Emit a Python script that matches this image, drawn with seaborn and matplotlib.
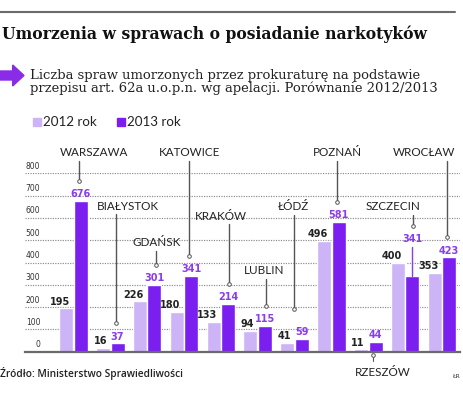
import matplotlib
matplotlib.use("Agg")
import matplotlib.pyplot as plt
import matplotlib.transforms as mtrans
from matplotlib.patches import Rectangle, Polygon
import seaborn as sns
import pandas as pd

# ---------------- data ----------------
cities = ["WARSZAWA", "BIAŁYSTOK", "GDAŃSK", "KATOWICE", "KRAKÓW", "LUBLIN",
          "ŁÓDŹ", "POZNAŃ", "RZESZÓW", "SZCZECIN", "WROCŁAW"]
values_2012 = [195, 16, 226, 180, 133, 94, 41, 496, 11, 400, 353]
values_2013 = [676, 37, 301, 341, 214, 115, 59, 581, 44, 341, 423]
years = ["2012 rok", "2013 rok"]
yticks = [0, 100, 200, 300, 400, 500, 600, 700, 800]

title = "Umorzenia w sprawach o posiadanie narkotyków"
subtitle1 = "Liczba spraw umorzonych przez prokuraturę na podstawie"
subtitle2 = "przepisu art. 62a u.o.p.n. wg apelacji. Porównanie 2012/2013"
source = "Źródło: Ministerstwo Sprawiedliwości"

# ---------------- style ----------------
C12 = "#cdb4f6"
C13 = "#7a1ff0"
CLBL = "#8a3cf0"
CTXT = "#222222"
CLINE = "#555555"

sns.set_theme(style="white")
plt.rcParams["font.family"] = ["DejaVu Sans"]

W, H = 464, 398
fig = plt.figure(figsize=(W / 100, H / 100), dpi=100)

def fy(py):  # top-based pixel -> figure fraction
    return 1 - py / H

def fx(px):
    return px / W

base_px, top_px = 351.7, 173.3
ax = fig.add_axes([fx(25), fy(base_px), fx(460) - fx(25), (base_px - top_px) / H])

df = pd.DataFrame({
    "city": cities * 2,
    "value": values_2012 + values_2013,
    "year": [years[0]] * len(cities) + [years[1]] * len(cities),
})
sns.barplot(data=df, x="city", y="value", hue="year", order=cities,
            hue_order=years, palette=[C12, C13], saturation=1,
            width=0.79, gap=0.04, legend=False, ax=ax, zorder=2)

ax.set_ylim(0, 800)
ax.set_xlim(-1.316, 10.49)
ax.set_xlabel("")
ax.set_ylabel("")
ax.set_xticks([])
ax.set_yticks(yticks)
ax.set_axisbelow(True)
ax.grid(axis="y", color="#8a8a8a", linestyle=(0, (1, 1.1)), linewidth=0.85, zorder=0)
ax.grid(axis="x", visible=False)
for s in ["left", "right", "top"]:
    ax.spines[s].set_visible(False)
ax.spines["bottom"].set_color("#6a6a6a")
ax.spines["bottom"].set_linewidth(1.6)
ax.spines["bottom"].set_zorder(3)
ax.tick_params(axis="y", length=0, pad=-11, labelsize=5.5, labelcolor="#333333")
off = mtrans.ScaledTranslation(0, 8 / 100, fig.dpi_scale_trans)
for lab in ax.get_yticklabels():
    lab.set_transform(lab.get_transform() + off)
    lab.set_horizontalalignment("right")
    lab.set_fontweight("medium")

# bar positions from the drawn containers
bars12 = ax.containers[0]
bars13 = ax.containers[1]
px_per_unit = (base_px - top_px) / 800.0

def units(px):
    return px / px_per_unit

# value labels
for b in bars12:
    xr = b.get_x() + b.get_width()
    ax.annotate(f"{int(b.get_height())}", (xr, b.get_height()),
                xytext=(-2.2, 1.2), textcoords="offset points",
                ha="right", va="bottom", fontsize=7, fontweight="bold",
                color=CTXT, clip_on=False, zorder=5)

# city label layout: (text x in category units, text y in pixels from top,
#                    leader x offset from category)
lab_x = [0.556, 1.479, 2.266, 3.161, 4.003, 5.169, 5.957, 7.151, 8.40, 8.67, 9.511]
lab_ypx = [153, 206, 243, 153, 216, 271, 207, 153, 373, 207, 153]
line_dx = [0.15, 0.15, 0.24, 0.13, 0.22, 0.22, -0.02, 0.15, 0.13, 0.22, 0.135]

for i, b in enumerate(bars13):
    xc = b.get_x() + b.get_width() / 2
    v = b.get_height()
    is_sz = cities[i] == "SZCZECIN"
    label_y = v + (units(30) if is_sz else 0)
    ax.annotate(f"{int(v)}", (xc, label_y), xytext=(0, 1.2),
                textcoords="offset points", ha="center", va="bottom",
                fontsize=7, fontweight="bold", color=CLBL, clip_on=False, zorder=5)
    if is_sz:
        ax.plot([xc, xc], [v, label_y - units(1)], color=CLBL, lw=1.0,
                zorder=4, clip_on=False)

for i, name in enumerate(cities):
    ty = units(base_px - lab_ypx[i])
    ax.text(lab_x[i], ty, name, ha="center", va="center", fontsize=8.4,
            color=CTXT, clip_on=False, family=["Lato", "DejaVu Sans"])
    lx = i + line_dx[i]
    v13 = values_2013[i]
    if name == "RZESZÓW":
        y0, y1 = units(-3.5), units(-9)
        ax.plot([lx, lx], [y0, y1], color=CLINE, lw=0.8, clip_on=False, zorder=4)
        ax.plot([lx], [y0], "o", ms=2.6, mfc="white", mec=CLINE, mew=0.7,
                clip_on=False, zorder=5)
        continue
    if name == "SZCZECIN":
        yend = v13 + units(30) + units(20)
    elif name == "ŁÓDŹ":
        yend = v13 + units(30)
    else:
        yend = v13 + units(20)
    ystart = ty - units(8)
    ax.plot([lx, lx], [ystart, yend], color=CLINE, lw=1.0, clip_on=False, zorder=4)
    ax.plot([lx], [yend], "o", ms=2.6, mfc="white", mec=CLINE, mew=0.7,
            clip_on=False, zorder=5)

# ---------------- header ----------------
fig.add_artist(plt.Line2D([0, fx(455)], [fy(12), fy(12)], color="#6b6b6b", lw=1.5))
fig.text(fx(2), fy(34), title, ha="left", va="center", fontsize=11.25,
         fontweight="bold", color="#111111", family=["DejaVu Serif"])

arrow = Polygon([(fx(0), fy(71)), (fx(12.7), fy(71)), (fx(12.7), fy(65)),
                 (fx(24), fy(75.5)), (fx(12.7), fy(86)), (fx(12.7), fy(80)),
                 (fx(0), fy(80))], closed=True, color="#8a2be8",
                transform=fig.transFigure)
fig.add_artist(arrow)
fig.text(fx(30), fy(75), subtitle1, ha="left", va="center", fontsize=9.45,
         color="#222222", family=["DejaVu Serif"])
fig.text(fx(30), fy(88.5), subtitle2, ha="left", va="center", fontsize=9.45,
         color="#222222", family=["DejaVu Serif"])

# legend
for (x0, c, t) in [(33, C12, years[0]), (117, C13, years[1])]:
    fig.add_artist(Rectangle((fx(x0), fy(125.5)), 8 / W, 8 / H, color=c,
                             transform=fig.transFigure))
    fig.text(fx(x0 + 10), fy(121.5), t, ha="left", va="center", fontsize=9.6,
             color="#222222", family=["Lato", "DejaVu Sans"])

# footer
fig.text(fx(0), fy(373), source, ha="left", va="center", fontsize=7.3,
         color="#222222", family=["Open Sans", "DejaVu Sans"], fontweight="semibold")
fig.text(fx(452), fy(376), "ŁR", ha="left", va="center", fontsize=4.5,
         color="#333333")

fig.savefig("out.png", dpi=100, facecolor="white")
